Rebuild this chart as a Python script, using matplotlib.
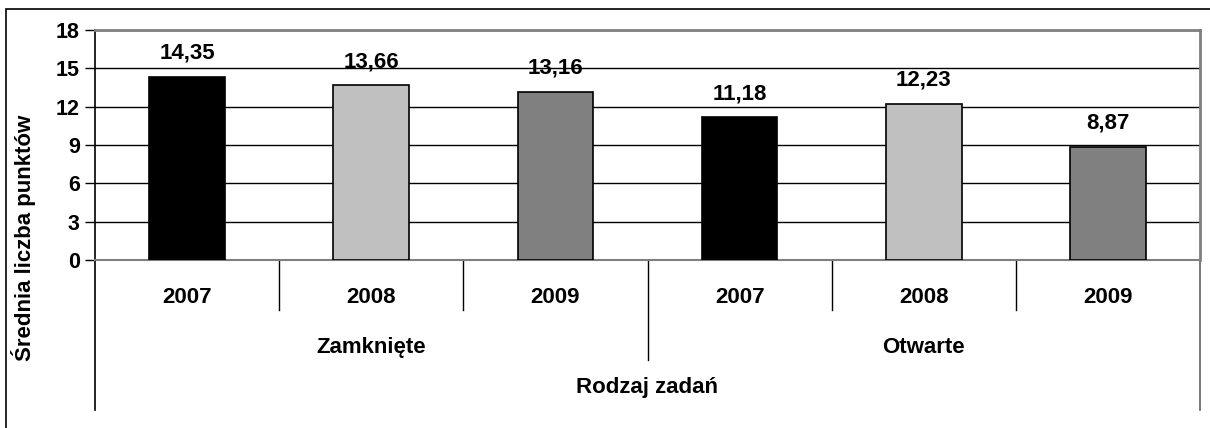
import matplotlib
matplotlib.use("Agg")
import matplotlib.pyplot as plt
from matplotlib.patches import Rectangle
import matplotlib.transforms as mtransforms

plt.rcParams['font.family'] = ['Liberation Sans', 'DejaVu Sans']
plt.rcParams['font.weight'] = 'bold'

years = ["2007", "2008", "2009", "2007", "2008", "2009"]
groups = ["Zamknięte", "Otwarte"]
values = [14.35, 13.66, 13.16, 11.18, 12.23, 8.87]
labels = ["14,35", "13,66", "13,16", "11,18", "12,23", "8,87"]
colors = ["#000000", "#C0C0C0", "#808080", "#000000", "#C0C0C0", "#808080"]
yticks = [0, 3, 6, 9, 12, 15, 18]
ylabel = "Średnia liczba punktów"
xlabel = "Rodzaj zadań"

FS = 16
W, H = 1210, 428
fig = plt.figure(figsize=(W / 100, H / 100), dpi=100)

# outer frame
fig.patches.append(Rectangle((6 / W, -0.1), 1.2, (H - 9) / H + 0.1, transform=fig.transFigure,
                             fill=False, edgecolor='black', linewidth=1.2, figure=fig))

L, R, T, B = 95, 1200, 30, 260
ax = fig.add_axes([L / W, (H - B) / H, (R - L) / W, (B - T) / H])

x = list(range(len(values)))
ax.bar(x, values, width=0.41, color=colors, edgecolor='black', linewidth=1.2, zorder=3)
ax.set_xlim(-0.5, len(values) - 0.5)
ax.set_ylim(0, 18)
ax.set_yticks(yticks)
ax.set_yticklabels([str(t) for t in yticks], fontsize=15.5, fontweight='bold')
ax.tick_params(axis='y', length=7, width=1, direction='out', pad=4, colors='black')
ax.set_xticks([])
ax.grid(axis='y', color='black', linewidth=1, zorder=0)
ax.set_axisbelow(True)

for s in ['top', 'right']:
    ax.spines[s].set_color('#808080')
    ax.spines[s].set_linewidth(2)
ax.spines['bottom'].set_color('#808080')
ax.spines['bottom'].set_linewidth(1.5)
ax.spines['left'].set_color('black')
ax.spines['left'].set_linewidth(1.2)

for xi, v, lab in zip(x, values, labels):
    ax.annotate(lab, (xi, v), xytext=(0, 13), textcoords='offset points',
                ha='center', va='baseline', fontsize=FS, fontweight='bold')

def ay(px):
    return (B - px) / (B - T)

blend = mtransforms.blended_transform_factory(ax.transData, ax.transAxes)
for xi, yr in zip(x, years):
    ax.text(xi, ay(303), yr, transform=blend, ha='center', va='baseline', fontsize=FS, fontweight='bold')
for gi, g in enumerate(groups):
    ax.text(gi * 3 + 1, ay(353), g, transform=blend, ha='center', va='baseline', fontsize=FS, fontweight='bold')
ax.text(2.5, ay(393), xlabel, transform=blend, ha='center', va='baseline', fontsize=FS, fontweight='bold')

for d in [0.5, 1.5, 3.5, 4.5]:
    ax.plot([d, d], [0, ay(310)], transform=blend, color='black', linewidth=1, clip_on=False)
ax.plot([2.5, 2.5], [0, ay(360)], transform=blend, color='black', linewidth=1, clip_on=False)
ax.plot([-0.5, -0.5], [0, ay(410)], transform=blend, color='black', linewidth=1.2, clip_on=False)
ax.plot([5.5, 5.5], [0, ay(410)], transform=blend, color='#606060', linewidth=1.2, clip_on=False)

fig.text(24 / W, 1 - 238 / H, ylabel, rotation=90, ha='center', va='center', fontsize=FS, fontweight='bold')

fig.savefig("out.png", dpi=100)
